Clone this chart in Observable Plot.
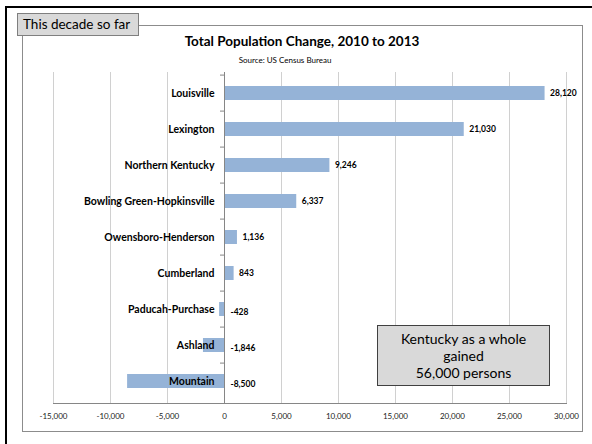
<!DOCTYPE html>
<html>
<head>
<meta charset="utf-8">
<script src="https://cdn.jsdelivr.net/npm/d3@7"></script>
<script src="https://cdn.jsdelivr.net/npm/@observablehq/plot@0.6"></script>
<style>
  body { margin: 0; background: #fff; font-family: Lato, "Liberation Sans", sans-serif; }
  #wrap { position: relative; width: 592px; height: 444px; overflow: hidden; background: #fff; }
  .abs { position: absolute; box-sizing: border-box; }
  #outer { left: 5px; top: 6px; width: 600px; height: 450px; border-top: 2.5px solid #000; border-left: 2.5px solid #000; }
  #inner { left: 22px; top: 25px; width: 561px; height: 407px; border: 1px solid #8c8c8c; }
  #tag { left: 17px; top: 13px; width: 122px; height: 23px; background: #d9d9d9; border: 1px solid #7f7f7f; font-size: 13.5px; line-height: 21px; padding-left: 5px; color: #000; white-space: nowrap; }
  #title { left: 102px; width: 400px; top: 32px; text-align: center; font-weight: bold; font-size: 13.5px; line-height: 18px; color: #000; }
  #subtitle { left: 185px; width: 200px; top: 55px; text-align: center; font-size: 8px; line-height: 11px; color: #000; }
  #chart { left: 0; top: 0; }
  #note { left: 377px; top: 325px; width: 173px; height: 61px; background: #d9d9d9; border: 1px solid #404040; text-align: center; font-size: 14px; line-height: 17px; padding-top: 4px; color: #000; }
</style>
</head>
<body>
<div id="wrap">
  <div id="outer" class="abs"></div>
  <div id="inner" class="abs"></div>
  <div id="chart" class="abs"></div>
  <div id="tag" class="abs">This decade so far</div>
  <div id="title" class="abs">Total Population Change, 2010 to 2013</div>
  <div id="subtitle" class="abs">Source: US Census Bureau</div>
  <div id="note" class="abs">Kentucky as a whole<br>gained<br>56,000 persons</div>
</div>
<script>
const regions = ["Louisville", "Lexington", "Northern Kentucky", "Bowling Green-Hopkinsville", "Owensboro-Henderson", "Cumberland", "Paducah-Purchase", "Ashland", "Mountain"];
const changes = [28120, 21030, 9246, 6337, 1136, 843, -428, -1846, -8500];
const xTicks = [-15000, -10000, -5000, 0, 5000, 10000, 15000, 20000, 25000, 30000];

const data = regions.map((r, i) => ({region: r, value: changes[i]}));
const fmt = d3.formatLocale({decimal: ".", thousands: ",", grouping: [3], currency: ["$", ""], minus: "-"}).format(",");

const chart = Plot.plot({
  width: 592,
  height: 444,
  marginLeft: 53,
  marginRight: 26,
  marginTop: 72,
  marginBottom: 41,
  style: {background: "transparent", fontFamily: "Lato, 'Liberation Sans', sans-serif"},
  x: {domain: [-15000, 30000], ticks: xTicks},
  y: {domain: regions, paddingInner: 0.6, paddingOuter: 0.3, axis: null},
  marks: [
    Plot.ruleX(xTicks.filter(d => d !== 0), {stroke: "#d0d0d0", strokeWidth: 1}),
    Plot.barX(data, {x: "value", y: "region", fill: "#95b3d7"}),
    Plot.ruleX([0], {stroke: "#868686", strokeWidth: 1}),
    Plot.ruleY(regions, {y: d => d, x1: -350, x2: 0, dy: -18.4, stroke: "#868686"}),
    Plot.frame({anchor: "bottom", stroke: "#868686"}),
    Plot.axisX({ticks: xTicks, tickFormat: fmt, tickSize: 0, tickPadding: 10, fontSize: 8, fill: "#222", label: null}),
    Plot.text(data, {x: 0, y: "region", text: "region", textAnchor: "end", dx: -10, fontWeight: "bold", fontSize: 10.5, fill: "#000"}),
    Plot.text(data.filter(d => d.value >= 0), {x: "value", y: "region", text: d => fmt(d.value), textAnchor: "start", dx: 5, fontWeight: "bold", fontSize: 8.5, fill: "#000"}),
    Plot.text(data.filter(d => d.value < 0), {x: 0, y: "region", text: d => fmt(d.value), textAnchor: "start", dx: 6, dy: 3, fontWeight: "bold", fontSize: 8.5, fill: "#000"})
  ]
});
document.getElementById("chart").appendChild(chart);
</script>
</body>
</html>
